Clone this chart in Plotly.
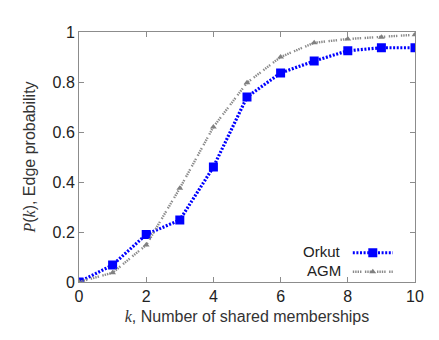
import plotly.graph_objects as go

k = [0, 1, 2, 3, 4, 5, 6, 7, 8, 9, 10]
orkut = [0.0, 0.068, 0.19, 0.248, 0.46, 0.74, 0.836, 0.884, 0.925, 0.937, 0.937]
agm = [0.0, 0.037, 0.148, 0.375, 0.62, 0.797, 0.90, 0.957, 0.972, 0.979, 0.989]
x_ticks = [0, 2, 4, 6, 8, 10]
y_ticks = [0, 0.2, 0.4, 0.6, 0.8, 1]
y_tick_labels = ["0", "0.2", "0.4", "0.6", "0.8", "1"]
series_names = ["Orkut", "AGM"]

SANS = "Liberation Sans, Arial, sans-serif"
SERIF_I = '<span style="font-family:Liberation Serif, Times New Roman, serif"><i>%s</i></span>'

fig = go.Figure()
fig.add_trace(go.Scatter(
    x=k, y=orkut, name=" ", mode="lines+markers",
    line=dict(color="#0000ff", width=3.2, dash="2px,1.6px"),
    marker=dict(symbol="square", size=9, color="#0000ff"),
))
fig.add_trace(go.Scatter(
    x=k, y=agm, name="  ", mode="lines+markers",
    line=dict(color="#8a8a8a", width=2.4, dash="1.4px,1px,1.4px,1px,1.4px,1px,1.4px,3.5px"),
    marker=dict(symbol="triangle-up", size=6, color="#808080"),
))

axis_common = dict(
    showgrid=False, zeroline=False, showline=True, linecolor="#8c8c8c", linewidth=1,
    mirror="ticks", ticks="inside", ticklen=5, tickcolor="#8c8c8c",
    tickfont=dict(family=SANS, size=16, color="#222"),
)
fig.update_xaxes(range=[0, 10], tickvals=x_ticks, **axis_common,
                 title=dict(text=(SERIF_I % "k") + ", Number of shared memberships",
                            font=dict(family=SANS, size=16, color="#333"),
                            standoff=6))
fig.update_yaxes(range=[0, 1], tickvals=y_ticks, ticktext=y_tick_labels, **axis_common,
                 title=dict(text=(SERIF_I % "P") + "(" + (SERIF_I % "k") + "), Edge probability",
                            font=dict(family=SANS, size=16, color="#333"),
                            standoff=12))

# legend labels placed to the left of the legend samples
for name, yp in zip(series_names, [0.122, 0.046]):
    fig.add_annotation(x=0.785, y=yp, xref="paper", yref="paper", text=name,
                       showarrow=False, xanchor="right", yanchor="middle",
                       font=dict(family=SANS, size=15, color="#222"))

fig.update_layout(
    width=439, height=340,
    margin=dict(l=79, r=24, t=32, b=58),
    plot_bgcolor="white", paper_bgcolor="white",
    legend=dict(x=0.80, y=0.175, xanchor="left", yanchor="top",
                bgcolor="rgba(0,0,0,0)",
                font=dict(family=SANS, size=9, color="#222"),
                itemwidth=40, tracegroupgap=0),
)
fig.write_html("out.html")
